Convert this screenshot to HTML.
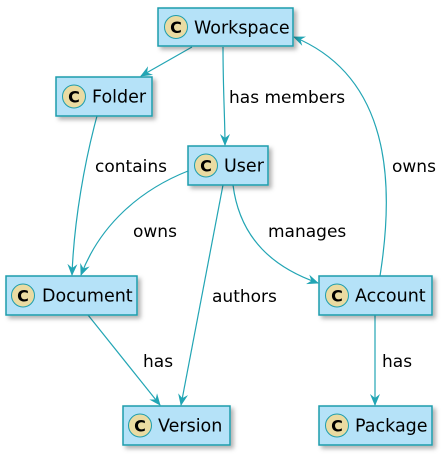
<!DOCTYPE html>
<html><head><meta charset="utf-8"><style>
html,body{margin:0;padding:0;background:#fff;}
svg{display:block;}
.box{fill:#B5E2F8;stroke:#1E9DAC;stroke-width:1.5;}
.spot{fill:#EADBA2;stroke:#1E9DAC;stroke-width:1;}
.sl{font-family:"DejaVu Sans","Liberation Sans",sans-serif;font-weight:bold;font-size:16px;fill:#000;}
.nm{font-family:"DejaVu Sans","Liberation Sans",sans-serif;font-size:17.5px;fill:#000;}
.lb{font-family:"DejaVu Sans","Liberation Sans",sans-serif;font-size:17px;fill:#000;}
.e{fill:none;stroke:#22A5B4;stroke-width:1.2;}
</style></head><body>
<svg width="447" height="455" viewBox="0 0 447 455" xmlns="http://www.w3.org/2000/svg">
<defs>
<filter id="sh" x="-10%" y="-10%" width="130%" height="150%"><feDropShadow dx="3" dy="3" stdDeviation="2" flood-color="#000" flood-opacity="0.3"/></filter>
<marker id="ar" viewBox="0 0 12 10" refX="11" refY="5" markerWidth="12" markerHeight="10" markerUnits="userSpaceOnUse" orient="auto">
<path d="M0,0 L12,5 L0,10 L4,5 Z" fill="#22A5B4"/>
</marker>
</defs>

<path class="e" d="M192,47 L141,76" marker-end="url(#ar)"/>
<path class="e" d="M223,47 C223,90 225,120 225,145" marker-end="url(#ar)"/>
<path class="e" d="M97,116 C85,160 74,220 72,275" marker-end="url(#ar)"/>
<path class="e" d="M188,171 C140,190 100,225 81,275" marker-end="url(#ar)"/>
<path class="e" d="M223,185 L181,405" marker-end="url(#ar)"/>
<path class="e" d="M233,185 C240,240 275,268 318,283" marker-end="url(#ar)"/>
<path class="e" d="M380,276 C392,200 398,80 294,37" marker-end="url(#ar)"/>
<path class="e" d="M88,315 L160,405" marker-end="url(#ar)"/>
<path class="e" d="M375,315 L375,405" marker-end="url(#ar)"/>

<text class="lb" x="229" y="103">has members</text>
<text class="lb" x="95" y="172">contains</text>
<text class="lb" x="392" y="172">owns</text>
<text class="lb" x="133" y="237">owns</text>
<text class="lb" x="268" y="237">manages</text>
<text class="lb" x="212" y="302">authors</text>
<text class="lb" x="143" y="367">has</text>
<text class="lb" x="382" y="367">has</text>

<g filter="url(#sh)">
<rect class="box" x="158" y="8" width="135" height="38"/>
<rect class="box" x="56" y="77" width="96" height="39"/>
<rect class="box" x="188" y="146" width="80" height="39"/>
<rect class="box" x="6" y="276" width="131" height="39"/>
<rect class="box" x="319" y="276" width="113" height="39"/>
<rect class="box" x="123" y="406" width="107" height="39"/>
<rect class="box" x="319" y="406" width="113" height="39"/>
</g>

<g>
<circle class="spot" cx="176" cy="27" r="11.5"/><text class="sl" x="176" y="33" text-anchor="middle">C</text>
<text class="nm" x="194" y="33.5">Workspace</text>

<circle class="spot" cx="74" cy="96.5" r="11.5"/><text class="sl" x="74" y="102.5" text-anchor="middle">C</text>
<text class="nm" x="92" y="102.5">Folder</text>

<circle class="spot" cx="206" cy="165.5" r="11.5"/><text class="sl" x="206" y="171.5" text-anchor="middle">C</text>
<text class="nm" x="224" y="171.5">User</text>

<circle class="spot" cx="23" cy="295.5" r="11.5"/><text class="sl" x="23" y="301.5" text-anchor="middle">C</text>
<text class="nm" x="42" y="301.5">Document</text>

<circle class="spot" cx="337" cy="295.5" r="11.5"/><text class="sl" x="337" y="301.5" text-anchor="middle">C</text>
<text class="nm" x="355" y="301.5">Account</text>

<circle class="spot" cx="140" cy="425.5" r="11.5"/><text class="sl" x="140" y="431.5" text-anchor="middle">C</text>
<text class="nm" x="158" y="431.5">Version</text>

<circle class="spot" cx="337" cy="425.5" r="11.5"/><text class="sl" x="337" y="431.5" text-anchor="middle">C</text>
<text class="nm" x="355" y="431.5">Package</text>
</g>
</svg>
</body></html>
